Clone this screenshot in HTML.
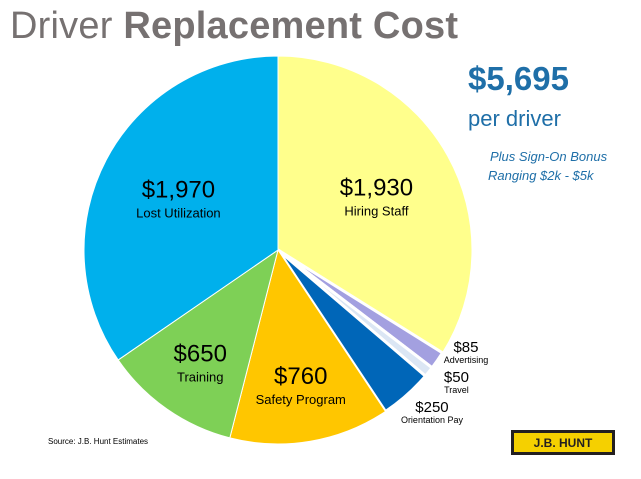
<!DOCTYPE html>
<html><head><meta charset="utf-8"><style>
body{margin:0;width:641px;height:479px;background:#fff;overflow:hidden;font-family:"Liberation Sans",sans-serif}
svg{position:absolute;left:0;top:0}
</style></head><body>
<svg width="641" height="479">
<text x="10" y="38" font-size="38" fill="#767171" textLength="448">Driver <tspan font-weight="bold">Replacement Cost</tspan></text>
<g id="slices"></g>
<g id="labels"></g>
<text x="468" y="90" font-size="33" font-weight="bold" fill="#1f6fa8">$5,695</text>
<text x="468" y="126" font-size="22" fill="#1f6fa8">per driver</text>
<text x="490" y="161" font-size="13" font-style="italic" fill="#1f6fa8">Plus Sign-On Bonus</text>
<text x="488" y="180" font-size="13" font-style="italic" fill="#1f6fa8">Ranging $2k - $5k</text>
<text x="48" y="444" font-size="8" fill="#000">Source: J.B. Hunt Estimates</text>
<g>
<rect x="511" y="430" width="104" height="25" fill="#231f20"/>
<rect x="514" y="433" width="98" height="19" fill="#f5d000"/>
<text x="563" y="447" font-size="12" font-weight="bold" text-anchor="middle" fill="#231f20">J.B. HUNT</text>
</g>
</svg>
<script>
const categories=["Hiring Staff","Advertising","Travel","Orientation Pay","Safety Program","Training","Lost Utilization"];
const values=[1930,85,50,250,760,650,1970];
const valueLabels=["$1,930","$85","$50","$250","$760","$650","$1,970"];
const colors=["#ffff8c","#a3a0e0","#dbe6f4","#0066b8","#ffc600","#7ed056","#00b0ec"];
const cx=278,cy=250,r=194;
const NS="http://www.w3.org/2000/svg";
const total=values.reduce((a,b)=>a+b,0);
function pt(a,rr){return [cx+rr*Math.sin(a),cy-rr*Math.cos(a)];}
const sg=document.getElementById('slices');
let acc=0;const mids=[];
values.forEach((v,i)=>{
 const a0=acc/total*2*Math.PI;acc+=v;const a1=acc/total*2*Math.PI;
 mids.push((a0+a1)/2);
 const p0=pt(a0,r),p1=pt(a1,r);
 const path=document.createElementNS(NS,'path');
 path.setAttribute('d',`M${cx},${cy}L${p0[0]},${p0[1]}A${r},${r} 0 ${a1-a0>Math.PI?1:0} 1 ${p1[0]},${p1[1]}Z`);
 path.setAttribute('fill',colors[i]);path.setAttribute('stroke','#fff');path.setAttribute('stroke-width',i>=1&&i<=3?3:1);
 
 
 sg.appendChild(path);
});
const lg=document.getElementById('labels');
let prevY=-1e9;
values.forEach((v,i)=>{
 const small=v<400;
 const f=Math.cos(mids[i])>0?0.58:0.7;
 let p=pt(mids[i],small?r+20:r*f);
 if(small){p[0]+=12;p[1]-=20;if(p[1]<prevY+30)p[1]=prevY+30;prevY=p[1];}
 const g=document.createElementNS(NS,'g');
 
 
 const t1=document.createElementNS(NS,'text');
 t1.setAttribute('x',p[0]);t1.setAttribute('y',p[1]);t1.setAttribute('text-anchor','middle');
 t1.setAttribute('font-size',small?15:24);t1.textContent=valueLabels[i];
 const t2=document.createElementNS(NS,'text');
 t2.setAttribute('x',p[0]);t2.setAttribute('y',p[1]+(small?11:20));t2.setAttribute('text-anchor','middle');
 t2.setAttribute('font-size',small?9:13);t2.textContent=categories[i];
 g.appendChild(t1);g.appendChild(t2);lg.appendChild(g);
});
</script>
</body></html>
